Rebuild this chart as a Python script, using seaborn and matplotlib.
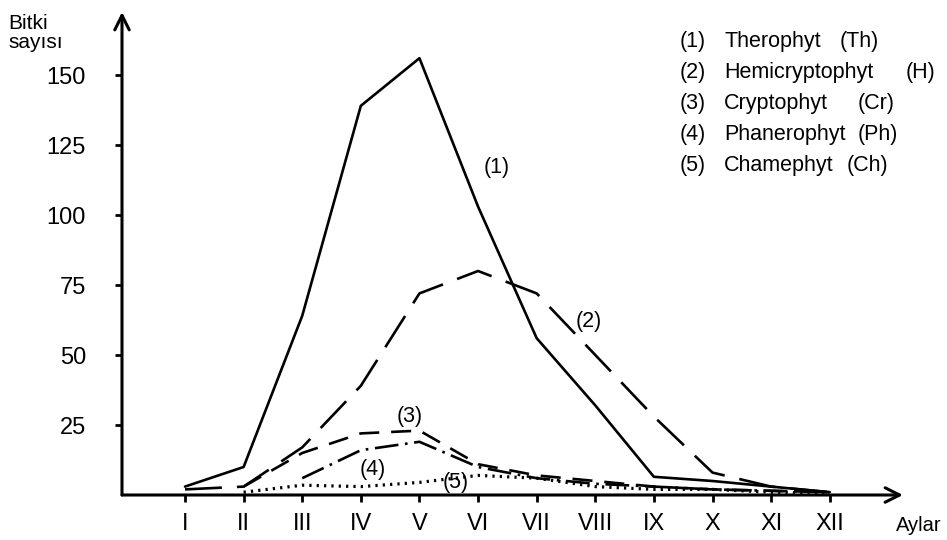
import numpy as np
import pandas as pd
import matplotlib

matplotlib.use("Agg")
import matplotlib.pyplot as plt
import seaborn as sns


MONTHS = ["I", "II", "III", "IV", "V", "VI", "VII", "VIII", "IX", "X", "XI", "XII"]
MONTH_NUM = list(range(1, 13))

therophyt = [3, 10, 64, 139, 156, 103, 56, 32, 6.5, 5, 3, 1]
hemicryptophyt = [2, 3, 17, 39, 72, 80, 72, 50, 28, 8, 3, 1]
cryptophyt = [np.nan, 3, 15, 22, 23, 11, 7, 5, 3, 2, 1.5, 1]
phanerophyt = [np.nan, np.nan, 6, 16, 19, 10, 6, 4, 3, 2, 1.5, 1]
chamephyt = [np.nan, 1, 3.5, 3, 4.5, 7, 6, 3, 2, 2, 1, 0.5]

SERIES = {"1": therophyt, "2": hemicryptophyt, "3": cryptophyt, "4": phanerophyt, "5": chamephyt}
LEGEND_NUMS = ["(1)", "(2)", "(3)", "(4)", "(5)"]
LEGEND_NAMES = ["Therophyt", "Hemicryptophyt", "Cryptophyt", "Phanerophyt", "Chamephyt"]
LEGEND_ABBR = ["(Th)", "(H)", "(Cr)", "(Ph)", "(Ch)"]
Y_TICKS = [25, 50, 75, 100, 125, 150]


def build_frame() -> pd.DataFrame:
    rows = []
    for key, values in SERIES.items():
        for month, value in zip(MONTH_NUM, values):
            rows.append({"month": month, "count": value, "group": key})
    return pd.DataFrame(rows)


def main() -> None:
    sns.set_style("white")
    plt.rcParams["font.family"] = ["Liberation Sans", "DejaVu Sans"]
    plt.rcParams["text.color"] = "black"
    plt.rcParams["xtick.color"] = "black"
    plt.rcParams["ytick.color"] = "black"

    df = build_frame()

    fig = plt.figure(figsize=(9.47, 5.40), dpi=100)
    W, H = 947, 540
    left, right, bottom, top = 122, 903, 495, 12
    ax = fig.add_axes([left / W, 1 - bottom / H, (right - left) / W, (bottom - top) / H])

    dashes = {
        "1": "",
        "2": (14, 5.7),
        "3": (7.6, 4.5),
        "4": (9, 2.5, 1, 2.5),
        "5": (0.7, 1.6),
    }
    sizes = {"1": 1.9, "2": 1.9, "3": 1.9, "4": 1.9, "5": 2.3}
    sns.lineplot(
        data=df,
        x="month",
        y="count",
        style="group",
        dashes=dashes,
        size="group",
        sizes=sizes,
        color="black",
        legend=False,
        ax=ax,
    )

    ax.set_xlim(-0.075, 13.25)
    ax.set_ylim(0, 172.5)
    for spine in ax.spines.values():
        spine.set_visible(False)

    arrow = dict(arrowstyle="->", lw=2.2, mutation_scale=26, color="black", shrinkA=0, shrinkB=0)
    ax.annotate("", xy=(0, 1), xytext=(0, 0), xycoords="axes fraction", arrowprops=arrow)
    ax.annotate("", xy=(1, 0), xytext=(0, 0), xycoords="axes fraction", arrowprops=arrow)

    ax.set_xticks(MONTH_NUM)
    ax.set_xticklabels(MONTHS)
    ax.set_yticks(Y_TICKS)
    ax.set_yticklabels([str(v) for v in Y_TICKS])
    ax.tick_params(axis="both", direction="out", length=5, width=2,
                   labelsize=17, bottom=True, left=True)
    ax.tick_params(axis="y", pad=21)
    ax.tick_params(axis="x", pad=8)
    ax.set_xlabel("")
    ax.set_ylabel("")

    fig.text(8 / W, 1 - 33 / H, "Bitki\nsayısı", fontsize=15, ha="left", va="center",
             linespacing=1.0)
    fig.text(942 / W, 1 - 531 / H, "Aylar", fontsize=14.5, ha="right", va="baseline")

    # curve labels
    curve_labels = [("(1)", 6.32, 117), ("(2)", 7.88, 62), ("(3)", 4.84, 28),
                    ("(4)", 4.21, 9.0), ("(5)", 5.61, 4.6)]
    for text, x, y in curve_labels:
        ax.text(x, y, text, fontsize=15.5, ha="center", va="center")

    for i in range(len(LEGEND_NUMS)):
        y = 1 - (47 + i * 30.9) / H
        fig.text(680 / W, y, LEGEND_NUMS[i], fontsize=15.5, ha="left", va="baseline")
        fig.text(724 / W, y, LEGEND_NAMES[i], fontsize=15.5, ha="left", va="baseline")
    abbr_x = [840, 906, 858, 858, 847]
    for i in range(len(LEGEND_ABBR)):
        y = 1 - (47 + i * 30.9) / H
        fig.text(abbr_x[i] / W, y, LEGEND_ABBR[i], fontsize=15.5, ha="left", va="baseline")

    fig.savefig("out.png", dpi=100)


if __name__ == "__main__":
    main()
